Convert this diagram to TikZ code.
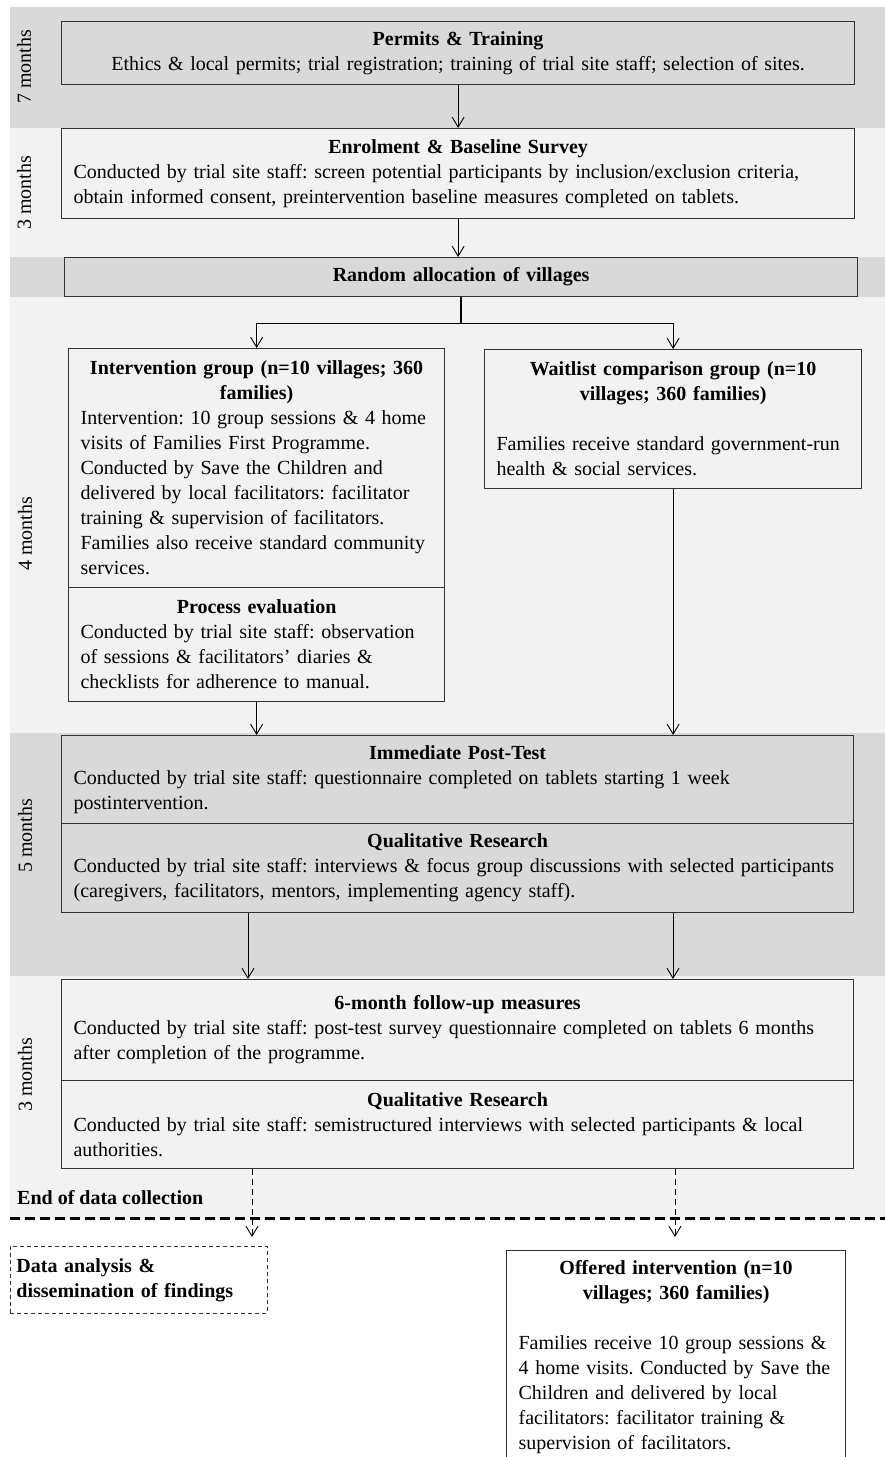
\documentclass[tikz,border=0pt]{standalone}
\usepackage{fontspec}
\setmainfont{Liberation Serif}
\usepackage{tikz}
\usetikzlibrary{arrows.meta}
\usetikzlibrary{positioning,calc}

\definecolor{banddark}{HTML}{D9D9D9}
\definecolor{bandlight}{HTML}{F2F2F2}
\frenchspacing

\begin{document}
\begin{tikzpicture}[x=1pt,y=-1pt,
	stage/.style={draw=black!80,line width=1.2pt,anchor=north west,inner xsep=12pt,inner ysep=0pt,align=left,font=\fontsize{20}{25}\selectfont},
	flow/.style={line width=0.9pt,-{Straight Barb[length=10pt,width=12pt]}},
	period/.style={rotate=90,font=\fontsize{20}{22}\selectfont}]
	\useasboundingbox (0,0) rectangle (885,1457);
	\clip (0,0) rectangle (885,1457);
	% time bands
	\fill [banddark] (10,7) rectangle (885,128);
	\fill [bandlight] (10,128) rectangle (885,257);
	\fill [banddark] (10,257) rectangle (885,297);
	\fill [bandlight] (10,297) rectangle (885,733);
	\fill [banddark] (10,733) rectangle (885,976);
	\fill [bandlight] (10,976) rectangle (885,1218);
	\node [period] (m7) at (24,67) {7 months};
	\node [period] (m3a) at (24,193) {3 months};
	\node [period] (m4) at (25,534) {4 months};
	\node [period] (m5) at (25,836) {5 months};
	\node [period] (m3b) at (25,1075) {3 months};
	% stages
	\node [stage,fill=banddark,align=center,text width=769pt,minimum height=63pt] (permits) at (61,21)
		{\textbf{Permits \& Training}\\Ethics \& local permits; trial registration; training of trial site staff; selection of sites.};
	\node [stage,fill=bandlight,text width=769pt,minimum height=90pt] (enrol) at (61,128)
		{{\centering\bfseries Enrolment \& Baseline Survey\par}Conducted by trial site staff: screen potential participants by inclusion/exclusion criteria,\\obtain informed consent, preintervention baseline measures completed on tablets.};
	\node [stage,fill=banddark,align=center,text width=769pt,minimum height=39pt] (random) at (64,257)
		{\textbf{Random allocation of villages}};
	\node [stage,fill=bandlight,text width=352pt,minimum height=239pt] (interv) at (68,348)
		{{\centering\bfseries Intervention group (n=10 villages; 360\\families)\par}Intervention: 10 group sessions \& 4 home\\visits of Families First Programme.\\Conducted by Save the Children and\\delivered by local facilitators: facilitator\\training \& supervision of facilitators.\\Families also receive standard community\\services.};
	\node [stage,fill=bandlight,text width=352pt,minimum height=114pt] (process) at (68,587)
		{{\centering\bfseries Process evaluation\par}Conducted by trial site staff: observation\\of sessions \& facilitators’ diaries \&\\checklists for adherence to manual.};
	\node [stage,fill=bandlight,text width=353pt,minimum height=139pt] (wait) at (484,349)
		{{\centering\bfseries Waitlist comparison group (n=10\\villages; 360 families)\par}\vspace{25pt}Families receive standard government-run\\health \& social services.};
	\node [stage,fill=banddark,text width=768pt,minimum height=88pt] (post) at (61,735)
		{{\centering\bfseries Immediate Post-Test\par}Conducted by trial site staff: questionnaire completed on tablets starting 1 week\\postintervention.};
	\node [stage,fill=banddark,text width=768pt,minimum height=89pt] (qualA) at (61,823)
		{{\centering\bfseries Qualitative Research\par}Conducted by trial site staff: interviews \& focus group discussions with selected participants\\(caregivers, facilitators, mentors, implementing agency staff).};
	\node [stage,fill=bandlight,text width=768pt,minimum height=101pt] (follow) at (61,979)
		{{\centering\bfseries 6-month follow-up measures\par}Conducted by trial site staff: post-test survey questionnaire completed on tablets 6 months\\after completion of the programme.};
	\node [stage,fill=bandlight,text width=768pt,minimum height=88pt] (qualB) at (61,1080)
		{{\centering\bfseries Qualitative Research\par}Conducted by trial site staff: semistructured interviews with selected participants \& local\\authorities.};
	% end of data collection
	\node [anchor=west,inner xsep=2pt,font=\fontsize{20}{25}\selectfont\bfseries] (enddata) at (15,1198) {End of data collection};
	\draw [line width=3pt,dash pattern=on 10pt off 5pt] (10,1218) -- (885,1218);
	\node [stage,fill=white,dash pattern=on 4pt off 3pt,line width=0.9pt,inner xsep=6pt,text width=245pt,minimum height=67pt,font=\fontsize{20}{25}\selectfont\bfseries] (analysis) at (10,1246)
		{Data analysis \&\\dissemination of findings};
	\node [stage,fill=white,inner ysep=10pt,text width=315pt] (offered) at (506,1250)
		{{\centering\bfseries Offered intervention (n=10\\villages; 360 families)\par}\vspace{25pt}Families receive 10 group sessions \&\\4 home visits. Conducted by Save the\\Children and delivered by local\\facilitators: facilitator training \&\\supervision of facilitators.};
	\coordinate (toanalysis) at (252,1237);
	\coordinate (tooffered) at (675,1237);
	% connectors
	\draw [flow] (permits.south) -- (enrol.north);
	\draw [flow] (enrol.south) -- (enrol.south |- random.north);
	\draw [line width=1.4pt] (random.south) -- ++(0,26) coordinate (split);
	\draw [flow] (split) -| (interv.north);
	\draw [flow] (split) -| (wait.north);
	\draw [flow] (process.south) -- (process.south |- post.north);
	\draw [flow] (wait.south) -- (wait.south |- post.north);
	\draw [flow] ([xshift=187pt]qualA.south west) -- ([xshift=187pt]follow.north west);
	\draw [flow] ([xshift=612pt]qualA.south west) -- ([xshift=612pt]follow.north west);
	\draw [flow,dash pattern=on 6pt off 4pt] (toanalysis |- qualB.south) -- (toanalysis);
	\draw [flow,dash pattern=on 6pt off 4pt] (tooffered |- qualB.south) -- (tooffered);
\end{tikzpicture}
\end{document}
